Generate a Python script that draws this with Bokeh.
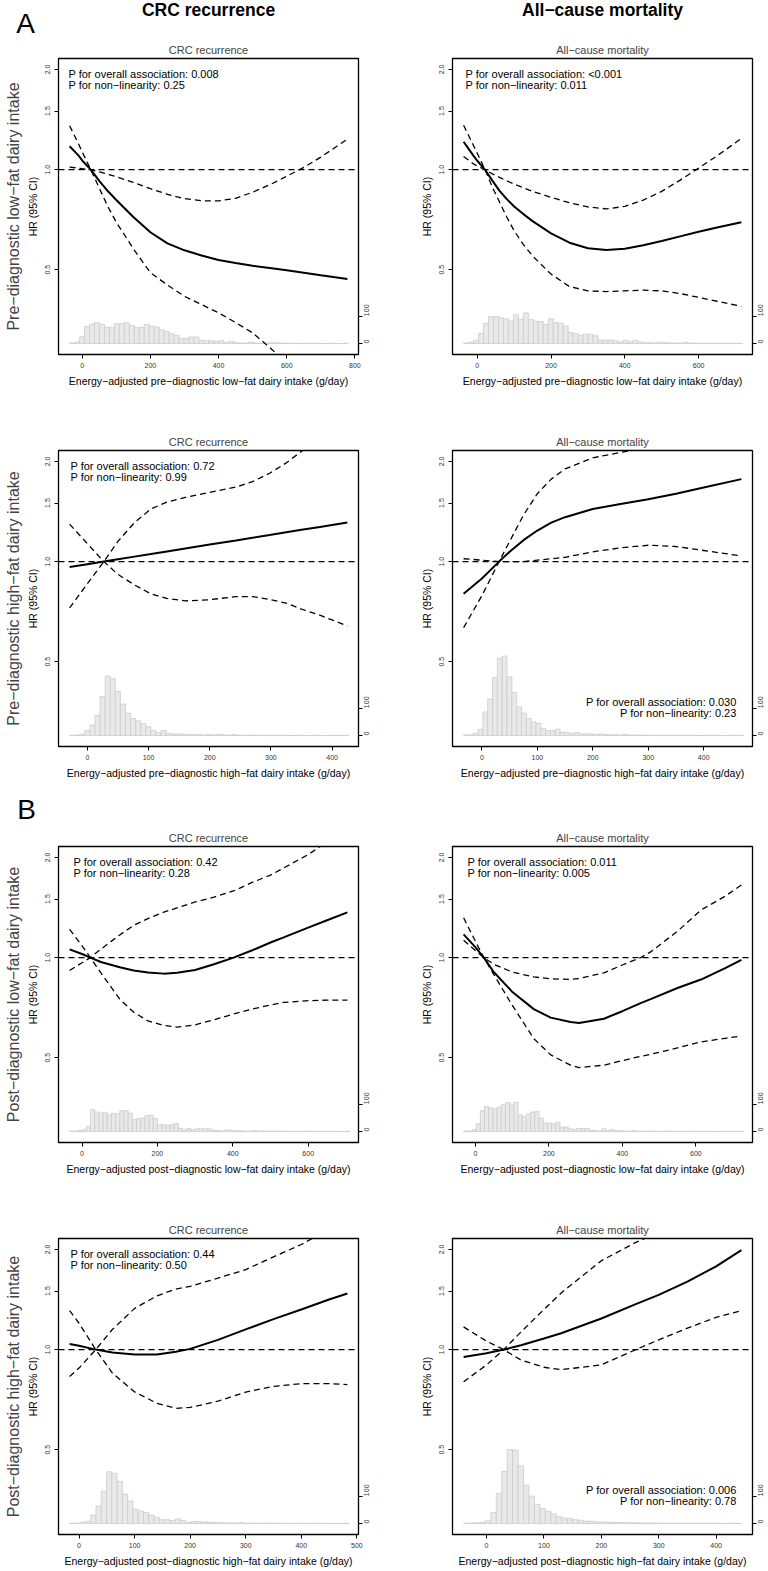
import math
import numpy as np
from bokeh.plotting import figure
from bokeh.models import (Range1d, LinearAxis, FixedTicker, Span, Label, LinearScale,
                          CustomJSTickFormatter, Title)
from bokeh.layouts import column, row
from bokeh.embed import file_html
from bokeh.resources import INLINE

FONT = "Liberation Sans"

# ---------------- shared text ----------------
col_headers = ["CRC recurrence", "All−cause mortality"]
row_labels = ["Pre−diagnostic low−fat dairy intake", "Pre−diagnostic high−fat dairy intake",
              "Post−diagnostic low−fat dairy intake", "Post−diagnostic high−fat dairy intake"]
x_labels = ["Energy−adjusted pre−diagnostic low−fat dairy intake (g/day)",
            "Energy−adjusted pre−diagnostic high−fat dairy intake (g/day)",
            "Energy−adjusted post−diagnostic low−fat dairy intake (g/day)",
            "Energy−adjusted post−diagnostic high−fat dairy intake (g/day)"]
section_labels = ["A", "B"]
y_label = "HR (95% CI)"
hr_ticks = [0.5, 1.0, 1.5, 2.0]
hr_lim = [0.3, 2.0]
count_ticks = [0, 100]
count_lim = [0, 1000]

# ---------------- A1: pre low-fat, CRC recurrence ----------------
a1_x = [-37, -10, 0, 25, 50, 75, 100, 150, 200, 250, 300, 350, 400, 450, 500, 550, 600, 650, 700, 778]
a1_hr = [1.175, 1.10, 1.065, 1.0, 0.925, 0.862, 0.81, 0.72, 0.648, 0.60, 0.572, 0.552, 0.535, 0.524, 0.514, 0.506, 0.498, 0.49, 0.481, 0.469]
a1_ci1 = [1.018, 1.01, 1.006, 1.0, 0.985, 0.968, 0.952, 0.915, 0.876, 0.843, 0.818, 0.806, 0.805, 0.82, 0.855, 0.90, 0.955, 1.015, 1.09, 1.235]
a1_ci2 = [1.355, 1.19, 1.13, 1.0, 0.88, 0.775, 0.695, 0.578, 0.49, 0.45, 0.416, 0.393, 0.371, 0.347, 0.323, 0.292, 0.262, 0.235, 0.212, 0.18]
a1_hist_start, a1_hist_width = -37, 14.6
a1_counts = [2, 6, 25, 62, 70, 76, 70, 60, 58, 72, 72, 76, 66, 58, 60, 70, 64, 60, 50, 44, 36, 30, 18, 18, 24, 24,
             12, 10, 10, 8, 10, 4, 8, 3, 2, 2, 5, 2, 1, 1, 3, 3, 2, 1, 1, 1, 0, 1, 0, 1, 0, 0, 1, 0, 0, 1]
a1_xticks = [0, 200, 400, 600, 800]
a1_p = ["P for overall association: 0.008", "P for non−linearity: 0.25"]

# ---------------- A2: pre low-fat, all-cause mortality ----------------
a2_x = [-37, -10, 0, 21, 40, 60, 80, 100, 125, 150, 200, 250, 300, 350, 400, 450, 500, 550, 600, 650, 716]
a2_hr = [1.213, 1.10, 1.063, 1.0, 0.93, 0.865, 0.815, 0.775, 0.735, 0.70, 0.643, 0.603, 0.58, 0.573, 0.578, 0.592, 0.61, 0.63, 0.65, 0.67, 0.695]
a2_ci1 = [1.095, 1.04, 1.025, 1.0, 0.972, 0.948, 0.925, 0.905, 0.882, 0.86, 0.825, 0.795, 0.772, 0.762, 0.775, 0.81, 0.86, 0.93, 1.01, 1.10, 1.24]
a2_ci2 = [1.359, 1.18, 1.12, 1.0, 0.89, 0.80, 0.72, 0.655, 0.595, 0.55, 0.485, 0.445, 0.432, 0.43, 0.432, 0.434, 0.432, 0.424, 0.413, 0.402, 0.388]
a2_hist_start, a2_hist_width = -37, 13.5
a2_counts = [2, 5, 12, 37, 74, 98, 98, 94, 90, 82, 106, 88, 112, 88, 81, 80, 70, 90, 76, 74, 64, 40, 36, 30, 34, 34,
             28, 13, 12, 13, 10, 6, 12, 6, 11, 6, 3, 3, 2, 5, 3, 2, 2, 1, 4, 2, 1, 1, 0, 1, 1, 0, 1, 0, 1, 1]
a2_xticks = [0, 200, 400, 600]
a2_p = ["P for overall association: <0.001", "P for non−linearity: 0.011"]

# ---------------- A3: pre high-fat, CRC recurrence ----------------
a3_x = [-29, 0, 27, 50, 77, 104, 130, 160, 200, 243, 270, 298, 325, 350, 380, 425]
a3_hr = [0.963, 0.982, 1.0, 1.016, 1.035, 1.054, 1.073, 1.095, 1.125, 1.158, 1.18, 1.202, 1.225, 1.246, 1.271, 1.311]
a3_ci1 = [0.726, 0.858, 1.0, 1.15, 1.31, 1.44, 1.51, 1.56, 1.615, 1.675, 1.74, 1.843, 1.98, 2.145, 2.33, 2.65]
a3_ci2 = [1.296, 1.132, 1.0, 0.915, 0.851, 0.80, 0.775, 0.762, 0.768, 0.785, 0.785, 0.77, 0.75, 0.72, 0.69, 0.641]
a3_hist_start, a3_hist_width = -29, 8.3
a3_counts = [1, 2, 5, 18, 38, 74, 142, 217, 207, 161, 115, 82, 62, 54, 44, 32, 18, 11, 18, 8, 6, 6, 5, 4, 3, 4, 2,
             3, 2, 4, 2, 2, 3, 1, 1, 2, 1, 1, 0, 1, 1, 0, 1, 0, 0, 1, 0, 0, 1, 0, 0, 0, 1, 0, 1]
a3_xticks = [0, 100, 200, 300, 400]
a3_p = ["P for overall association: 0.72", "P for non−linearity: 0.99"]

# ---------------- A4: pre high-fat, all-cause mortality ----------------
a4_x = [-33, 0, 31, 50, 75, 100, 125, 150, 200, 250, 300, 350, 400, 468]
a4_hr = [0.80, 0.89, 1.0, 1.07, 1.16, 1.24, 1.31, 1.36, 1.44, 1.49, 1.54, 1.60, 1.67, 1.77]
a4_ci1 = [0.633, 0.79, 1.0, 1.15, 1.38, 1.60, 1.77, 1.90, 2.05, 2.13, 2.20, 2.30, 2.40, 2.55]
a4_ci2 = [1.02, 1.01, 1.0, 1.0, 1.0, 1.01, 1.02, 1.03, 1.07, 1.10, 1.12, 1.11, 1.08, 1.04]
a4_hist_start, a4_hist_width = -33, 8.7
a4_counts = [2, 3, 8, 23, 86, 133, 211, 282, 290, 214, 157, 104, 82, 62, 50, 44, 26, 18, 18, 23, 12, 12, 8, 11, 6,
             6, 6, 4, 6, 4, 2, 3, 2, 4, 2, 2, 1, 2, 1, 1, 1, 0, 1, 1, 0, 1, 0, 1, 0, 0, 1, 0, 1, 0, 0, 1, 0, 1]
a4_xticks = [0, 100, 200, 300, 400]
a4_p = ["P for overall association: 0.030", "P for non−linearity: 0.23"]

# ---------------- B1: post low-fat, CRC recurrence ----------------
b1_x = [-33, 0, 22, 50, 100, 137, 175, 217, 252, 300, 350, 402, 450, 500, 535, 600, 650, 704]
b1_hr = [1.059, 1.025, 1.0, 0.97, 0.935, 0.915, 0.902, 0.895, 0.90, 0.918, 0.955, 1.0, 1.05, 1.11, 1.15, 1.23, 1.295, 1.368]
b1_ci1 = [0.915, 0.965, 1.0, 1.06, 1.17, 1.25, 1.31, 1.37, 1.41, 1.47, 1.52, 1.586, 1.68, 1.77, 1.86, 2.04, 2.23, 2.45]
b1_ci2 = [1.216, 1.085, 1.0, 0.90, 0.75, 0.685, 0.645, 0.625, 0.618, 0.628, 0.65, 0.677, 0.70, 0.72, 0.733, 0.742, 0.745, 0.745]
b1_hist_start, b1_hist_width = -33, 11.1
b1_counts = [2, 2, 4, 7, 19, 80, 71, 67, 70, 61, 67, 65, 77, 76, 67, 43, 47, 49, 58, 60, 47, 25, 25, 23, 25, 29,
             11, 7, 11, 7, 10, 10, 10, 10, 4, 4, 2, 6, 5, 2, 3, 2, 1, 2, 3, 1, 2, 1, 1, 2, 1, 1, 0, 1, 1, 0, 1, 1,
             0, 1, 0, 1, 0, 1, 0, 0, 1]
b1_xticks = [0, 200, 400, 600]
b1_p = ["P for overall association: 0.42", "P for non−linearity: 0.28"]

# ---------------- B2: post low-fat, all-cause mortality ----------------
b2_x = [-32, 0, 23, 50, 100, 159, 205, 259, 282, 350, 400, 450, 477, 550, 614, 680, 724]
b2_hr = [1.175, 1.075, 1.0, 0.905, 0.79, 0.70, 0.66, 0.64, 0.636, 0.655, 0.69, 0.73, 0.75, 0.81, 0.859, 0.93, 0.985]
b2_ci1 = [1.128, 1.05, 1.0, 0.955, 0.905, 0.875, 0.863, 0.86, 0.865, 0.90, 0.95, 1.0, 1.04, 1.20, 1.39, 1.53, 1.653]
b2_ci2 = [1.317, 1.12, 1.0, 0.89, 0.72, 0.571, 0.51, 0.475, 0.467, 0.475, 0.49, 0.505, 0.512, 0.535, 0.558, 0.572, 0.581]
b2_hist_start, b2_hist_width = -32, 11.4
b2_counts = [2, 2, 7, 28, 76, 92, 86, 83, 88, 98, 106, 100, 107, 61, 55, 64, 71, 73, 49, 31, 31, 28, 34, 16, 16,
             10, 7, 11, 11, 11, 4, 4, 2, 10, 5, 7, 2, 3, 2, 1, 3, 2, 1, 1, 2, 1, 0, 1, 2, 1, 0, 1, 0, 1, 1, 0, 1,
             0, 1, 0, 0, 1, 0, 1, 0, 0, 1]
b2_xticks = [0, 200, 400, 600]
b2_p = ["P for overall association: 0.011", "P for non−linearity: 0.005"]

# ---------------- B3: post high-fat, CRC recurrence ----------------
b3_x = [-17, 0, 30, 60, 100, 140, 174, 200, 250, 300, 350, 400, 450, 483]
b3_hr = [1.04, 1.027, 1.0, 0.98, 0.967, 0.967, 0.985, 1.005, 1.07, 1.15, 1.235, 1.32, 1.415, 1.475]
b3_ci1 = [0.83, 0.88, 1.0, 1.15, 1.33, 1.45, 1.52, 1.55, 1.64, 1.74, 1.90, 2.07, 2.30, 2.45]
b3_ci2 = [1.31, 1.20, 1.0, 0.85, 0.746, 0.69, 0.666, 0.67, 0.70, 0.745, 0.775, 0.79, 0.79, 0.785]
b3_hist_start, b3_hist_width = -17, 9.5
b3_counts = [1, 2, 5, 8, 31, 64, 118, 189, 183, 154, 108, 82, 52, 46, 40, 31, 23, 14, 14, 11, 17, 11, 5, 7, 7, 6,
             5, 4, 3, 3, 2, 2, 3, 1, 2, 1, 1, 2, 1, 1, 1, 0, 1, 1, 0, 1, 1, 0, 1, 0, 1, 0, 1]
b3_xticks = [0, 100, 200, 300, 400, 500]
b3_p = ["P for overall association: 0.44", "P for non−linearity: 0.50"]

# ---------------- B4: post high-fat, all-cause mortality ----------------
b4_x = [-40, 0, 30, 60, 100, 130, 200, 260, 300, 350, 400, 444]
b4_hr = [0.95, 0.975, 1.0, 1.03, 1.08, 1.12, 1.24, 1.37, 1.46, 1.60, 1.78, 1.99]
b4_ci1 = [0.80, 0.90, 1.0, 1.13, 1.32, 1.48, 1.85, 2.10, 2.25, 2.40, 2.55, 2.70]
b4_ci2 = [1.17, 1.06, 1.0, 0.93, 0.885, 0.87, 0.90, 1.0, 1.07, 1.16, 1.25, 1.31]
b4_hist_start, b4_hist_width = -40, 9.5
b4_counts = [1, 2, 3, 5, 10, 40, 110, 190, 270, 268, 210, 140, 100, 70, 55, 45, 35, 25, 20, 18, 14, 12, 9, 8, 6,
             6, 5, 4, 4, 3, 3, 3, 2, 2, 2, 2, 1, 1, 1, 1, 1, 1, 1, 1, 1, 1, 1, 0, 1, 1, 0]
b4_xticks = [0, 100, 200, 300, 400]
b4_p = ["P for overall association: 0.006", "P for non−linearity: 0.78"]

panels = [
    [dict(x=a1_x, hr=a1_hr, c1=a1_ci1, c2=a1_ci2, h0=a1_hist_start, hw=a1_hist_width, hc=a1_counts, xt=a1_xticks, pt=a1_p, px=10, pb=False),
     dict(x=a2_x, hr=a2_hr, c1=a2_ci1, c2=a2_ci2, h0=a2_hist_start, hw=a2_hist_width, hc=a2_counts, xt=a2_xticks, pt=a2_p, px=13, pb=False)],
    [dict(x=a3_x, hr=a3_hr, c1=a3_ci1, c2=a3_ci2, h0=a3_hist_start, hw=a3_hist_width, hc=a3_counts, xt=a3_xticks, pt=a3_p, px=12, pb=False),
     dict(x=a4_x, hr=a4_hr, c1=a4_ci1, c2=a4_ci2, h0=a4_hist_start, hw=a4_hist_width, hc=a4_counts, xt=a4_xticks, pt=a4_p, px=16, pb=True)],
    [dict(x=b1_x, hr=b1_hr, c1=b1_ci1, c2=b1_ci2, h0=b1_hist_start, hw=b1_hist_width, hc=b1_counts, xt=b1_xticks, pt=b1_p, px=15, pb=False),
     dict(x=b2_x, hr=b2_hr, c1=b2_ci1, c2=b2_ci2, h0=b2_hist_start, hw=b2_hist_width, hc=b2_counts, xt=b2_xticks, pt=b2_p, px=15, pb=False)],
    [dict(x=b3_x, hr=b3_hr, c1=b3_ci1, c2=b3_ci2, h0=b3_hist_start, hw=b3_hist_width, hc=b3_counts, xt=b3_xticks, pt=b3_p, px=12, pb=False),
     dict(x=b4_x, hr=b4_hr, c1=b4_ci1, c2=b4_ci2, h0=b4_hist_start, hw=b4_hist_width, hc=b4_counts, xt=b4_xticks, pt=b4_p, px=16, pb=True)],
]

# R-style 4% axis extension
ye = 0.04 * math.log(hr_lim[1] / hr_lim[0])
Y_RANGE = (hr_lim[0] * math.exp(-ye), hr_lim[1] * math.exp(ye))
ce = 0.04 * (count_lim[1] - count_lim[0])
C_RANGE = (count_lim[0] - ce, count_lim[1] + ce)

FW, FH = 300, 296
DASH = "6 4"
TOP = [18, 56, 18, 56]
BOTTOM = [40, 36, 40, 33]


def lab(p, x, y, text, size, align="center", style="normal", units="screen"):
    p.add_layout(Label(x=x, y=y, x_units=units, y_units=units, text=text,
                       text_font=FONT, text_font_size=size, text_font_style=style,
                       text_align=align, text_baseline="middle", text_color="black"))


def band(height, items):
    """A text-only strip (no axes) whose frame spans the whole canvas."""
    b = figure(width=768, height=height, x_range=Range1d(0, 768), y_range=Range1d(0, height),
               x_axis_location=None, y_axis_location=None, output_backend="svg",
               toolbar_location=None, min_border=0, min_border_left=0, min_border_right=0,
               min_border_top=0, min_border_bottom=0, outline_line_color=None,
               background_fill_color="white", border_fill_color="white")
    b.xgrid.visible = False
    b.ygrid.visible = False
    for (x, y, text, size, style) in items:
        lab(b, x, y, text, size, style=style, units="data")
    return b


def make_panel(d, ri, ci):
    xmin, xmax = min(d["x"]), max(d["x"])
    ext = 0.04 * (xmax - xmin)
    left = ci == 0
    p = figure(frame_width=FW, frame_height=FH,
               x_range=Range1d(xmin - ext, xmax + ext), y_range=Range1d(*Y_RANGE),
               y_axis_type="log", output_backend="svg", toolbar_location=None,
               min_border_left=58 if left else 68, min_border_right=26 if left else 16,
               min_border_top=TOP[ri], min_border_bottom=BOTTOM[ri],
               background_fill_color="white", border_fill_color="white")
    p.title.text = col_headers[ci]
    p.title.align = "center"
    p.title.text_font = FONT
    p.title.text_font_size = "11px"
    p.title.text_font_style = "normal"
    p.title.standoff = 5
    p.xgrid.visible = False
    p.ygrid.visible = False
    p.outline_line_color = "black"
    p.outline_line_width = 1.3
    p.outline_line_alpha = 1.0

    # histogram on secondary (count) scale
    p.extra_y_ranges = {"hist": Range1d(*C_RANGE)}
    p.extra_y_scales = {"hist": LinearScale()}
    n = len(d["hc"])
    lefts = d["h0"] + d["hw"] * np.arange(n)
    p.quad(left=lefts, right=lefts + d["hw"], bottom=0, top=d["hc"], y_range_name="hist",
           fill_color="#e9e9e9", line_color="#cdcdcd", line_width=0.8)

    p.add_layout(Span(location=1.0, dimension="width", line_color="black",
                      line_dash=DASH, line_width=1.3))
    p.line(d["x"], d["c1"], line_color="black", line_dash=DASH, line_width=1.3)
    p.line(d["x"], d["c2"], line_color="black", line_dash=DASH, line_width=1.3)
    p.line(d["x"], d["hr"], line_color="black", line_width=2.0)

    for ax in (p.xaxis[0], p.yaxis[0]):
        ax.axis_line_color = None
        ax.minor_tick_line_color = None
        ax.major_tick_out = 4
        ax.major_tick_in = 0
        ax.major_tick_line_color = "black"
        ax.major_label_text_font = FONT
        ax.major_label_text_font_size = "7px"
        ax.major_label_text_color = "#333333"
        ax.axis_label_text_font = FONT
        ax.axis_label_text_font_size = "10.5px"
        ax.axis_label_text_font_style = "normal"
        ax.axis_label_text_color = "black"
    p.xaxis.ticker = FixedTicker(ticks=d["xt"])
    p.xaxis.major_label_standoff = 4
    p.xaxis.axis_label = x_labels[ri]
    p.xaxis.axis_label_standoff = 4
    p.yaxis.ticker = FixedTicker(ticks=hr_ticks)
    p.yaxis.formatter = CustomJSTickFormatter(code="return tick.toFixed(1)")
    p.yaxis.major_label_orientation = "parallel"
    p.yaxis.major_label_standoff = 4
    p.yaxis.axis_label = y_label
    p.yaxis.axis_label_standoff = 4

    rax = LinearAxis(y_range_name="hist", ticker=FixedTicker(ticks=count_ticks),
                     axis_line_color=None, minor_tick_line_color=None,
                     major_tick_out=4, major_tick_in=0, major_label_standoff=4,
                     major_label_orientation=math.pi / 2,
                     major_label_text_font=FONT, major_label_text_font_size="7px",
                     major_label_text_color="#333333")
    p.add_layout(rax, "right")

    if left:
        p.add_layout(Title(text=row_labels[ri], align="center", text_font=FONT,
                           text_font_size="16px", text_font_style="normal", standoff=3), "left")

    # P-value annotations inside the frame
    if d["pb"]:
        lab(p, FW - 16, 45, d["pt"][0], "11px", align="right")
        lab(p, FW - 16, 34, d["pt"][1], "11px", align="right")
    else:
        lab(p, d["px"], FH - 15, d["pt"][0], "11px", align="left")
        lab(p, d["px"], FH - 26, d["pt"][1], "11px", align="left")
    return p


top_band = band(39, [(208, 30, col_headers[0], "17.5px", "bold"),
                     (602, 30, col_headers[1], "17.5px", "bold"),
                     (25, 16, section_labels[0], "28px", "normal")])
b_band = band(45, [(26, 18, section_labels[1], "28px", "normal")])

rows = [row(*[make_panel(panels[r][c], r, c) for c in range(2)]) for r in range(4)]
layout = column(top_band, rows[0], rows[1], b_band, rows[2], rows[3])

with open("out.html", "w", encoding="utf-8") as f:
    f.write(file_html(layout, INLINE))
